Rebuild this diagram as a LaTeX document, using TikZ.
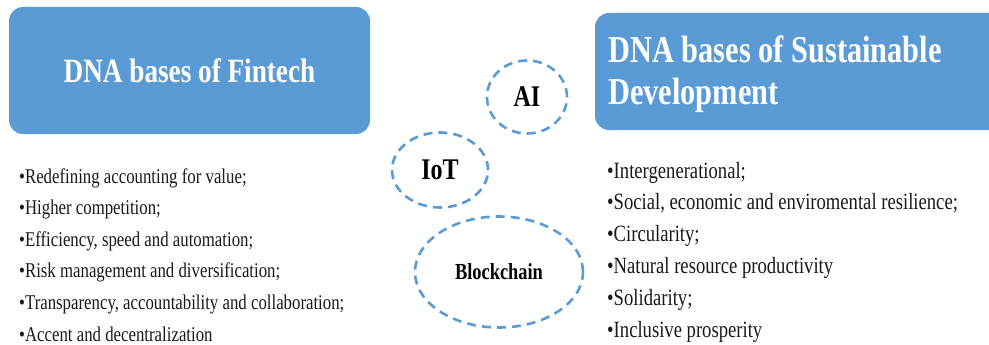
\documentclass[tikz,border=0pt]{standalone}
\usepackage{fontspec}
\setmainfont{Liberation Serif}[FakeStretch=0.8]
\usetikzlibrary{shapes}
\definecolor{dnablue}{RGB}{91,155,213}
\tikzstyle{basebox}=[rounded corners=14pt,fill=dnablue,inner sep=0pt]
\tikzstyle{title}=[text=white,font=\fontsize{34}{42}\selectfont\bfseries,inner sep=0pt]
\tikzstyle{item}=[anchor=base west,inner sep=0pt,text=black!90,font=\fontsize{21}{26}\selectfont]
\tikzstyle{tech}=[ellipse,draw=dnablue,line width=2.6pt,dash pattern=on 9pt off 6pt,inner sep=0pt]

\begin{document}
\begin{tikzpicture}[x=1pt,y=-1pt]
    \useasboundingbox (0,0) rectangle (989,345);
    \clip (0,0) rectangle (989,345);
    % The two headline boxes
    \node[basebox,title,minimum width=361pt,minimum height=127pt] (fintech) at (189.5,70.5) {DNA bases of Fintech};
    \node[basebox,minimum width=420pt,minimum height=117pt] (sd) at (805,71.5) {};
    \node[title,font=\fontsize{38}{42}\selectfont\bfseries,align=left,anchor=north west] (sdtitle) at (608,36) {DNA bases of Sustainable\\Development};
    % Bullet lists under each box
    \foreach \txt [count=\i] in {Redefining accounting for value;, Higher competition;,
        {Efficiency, speed and automation;}, Risk management and diversification;,
        {Transparency, accountability and collaboration;}, Accent and decentralization}
        \node[item] (fin\i) at (19,151.4+31.6*\i) {\textbullet\txt};
    \foreach \txt [count=\i] in {Intergenerational;, {Social, economic and enviromental resilience;},
        Circularity;, Natural resource productivity, Solidarity;, Inclusive prosperity}
        \node[item,font=\fontsize{23.3}{27}\selectfont] (sd\i) at (607,146.2+31.8*\i) {\textbullet\txt};
    % Technologies linking the two sides
    \node[tech,minimum width=80pt,minimum height=73pt,font=\fontsize{30}{34}\selectfont\bfseries] (ai) at (527,97) {AI};
    \node[tech,minimum width=96pt,minimum height=75pt,font=\fontsize{30}{34}\selectfont\bfseries] (iot) at (440,170) {IoT};
    \node[tech,minimum width=168pt,minimum height=111pt,font=\fontsize{23}{27}\selectfont\bfseries] (blockchain) at (499,272) {Blockchain};
\end{tikzpicture}
\end{document}
